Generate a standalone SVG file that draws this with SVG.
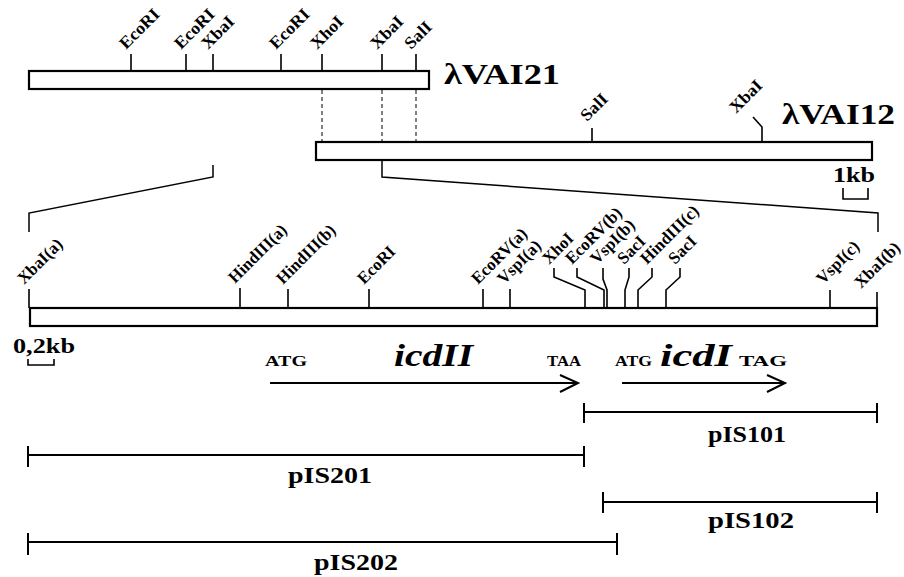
<svg xmlns="http://www.w3.org/2000/svg" width="904" height="577" viewBox="0 0 904 577">
<style>
.bar{fill:#fff;stroke:#000;stroke-width:2.2}
.tk{stroke:#000;stroke-width:1.6;fill:none}
.ln{stroke:#000;stroke-width:2;fill:none}
.ds{stroke:#000;stroke-width:1;stroke-dasharray:4 3;fill:none}
.cn{stroke:#000;stroke-width:1.5;fill:none}
text{font-family:"Liberation Serif","Times New Roman",Times,serif;font-weight:bold;fill:#000}
.lb{font-size:17px}
.big{font-size:30px}
.sc{font-size:22px}
.cod{font-size:15px}
.gene{font-size:31px;font-style:italic}
.pl{font-size:24px}
</style>
<rect width="904" height="577" fill="#fff"/>

<g id="lambdaVAI21">
<rect class="bar" x="29" y="71" width="400" height="18"/>
<path class="tk" d="M131 54V71M186 54V71M213 54V71M281 54V71M322 54V71M382 54V71M416 54V71"/>
<text class="lb" transform="translate(126,50) rotate(-45)" textLength="49" lengthAdjust="spacingAndGlyphs">EcoRI</text>
<text class="lb" transform="translate(181,50) rotate(-45)" textLength="49" lengthAdjust="spacingAndGlyphs">EcoRI</text>
<text class="lb" transform="translate(208,50) rotate(-45)" textLength="39" lengthAdjust="spacingAndGlyphs">XbaI</text>
<text class="lb" transform="translate(276,50) rotate(-45)" textLength="49" lengthAdjust="spacingAndGlyphs">EcoRI</text>
<text class="lb" transform="translate(317,50) rotate(-45)" textLength="39" lengthAdjust="spacingAndGlyphs">XhoI</text>
<text class="lb" transform="translate(377,50) rotate(-45)" textLength="39" lengthAdjust="spacingAndGlyphs">XbaI</text>
<text class="lb" transform="translate(411,50) rotate(-45)" textLength="31" lengthAdjust="spacingAndGlyphs">SalI</text>
<text class="big" x="444" y="84" textLength="116" lengthAdjust="spacingAndGlyphs">λVAI21</text>
</g>

<g id="lambdaVAI12">
<rect class="bar" x="316" y="142" width="556" height="18"/>
<path class="tk" d="M592 128V142M753 117L762 127V142"/>
<text class="lb" transform="translate(587,122) rotate(-45)" textLength="31" lengthAdjust="spacingAndGlyphs">SalI</text>
<text class="lb" transform="translate(736,114) rotate(-45)" textLength="39" lengthAdjust="spacingAndGlyphs">XbaI</text>
<text class="big" x="782" y="124" textLength="113" lengthAdjust="spacingAndGlyphs">λVAI12</text>
</g>

<g id="scale1kb">
<text class="sc" x="833" y="182" textLength="42" lengthAdjust="spacingAndGlyphs">1kb</text>
<path class="tk" d="M843 188V199H868V188"/>
</g>

<g id="detailMap">
<rect class="bar" x="30" y="308" width="847" height="18"/>
<path class="tk" d="M29 289V308M240 288V308M288 289V308M369 289V308M483 289V308M510 289V308M830 290V308M877 292V308"/>
<path class="tk" d="M554 268V277L585 290V308M577 268V277L604 290V308M603 268V279L607 290V308M629 268V277L625 290V308M652 268V277L638 290V308M680 268V277L666 290V308"/>
<text class="lb" transform="translate(24,285) rotate(-45)" textLength="56" lengthAdjust="spacingAndGlyphs">XbaI(a)</text>
<text class="lb" transform="translate(235,284) rotate(-45)" textLength="75" lengthAdjust="spacingAndGlyphs">HindIII(a)</text>
<text class="lb" transform="translate(283,285) rotate(-45)" textLength="76" lengthAdjust="spacingAndGlyphs">HindIII(b)</text>
<text class="lb" transform="translate(364,285) rotate(-45)" textLength="46" lengthAdjust="spacingAndGlyphs">EcoRI</text>
<text class="lb" transform="translate(478,285) rotate(-45)" textLength="71" lengthAdjust="spacingAndGlyphs">EcoRV(a)</text>
<text class="lb" transform="translate(504,285) rotate(-45)" textLength="54" lengthAdjust="spacingAndGlyphs">VspI(a)</text>
<text class="lb" transform="translate(549,265) rotate(-45)" textLength="36" lengthAdjust="spacingAndGlyphs">XhoI</text>
<text class="lb" transform="translate(572,265) rotate(-45)" textLength="72" lengthAdjust="spacingAndGlyphs">EcoRV(b)</text>
<text class="lb" transform="translate(597,265) rotate(-45)" textLength="55" lengthAdjust="spacingAndGlyphs">VspI(b)</text>
<text class="lb" transform="translate(624,265) rotate(-45)" textLength="32" lengthAdjust="spacingAndGlyphs">SacI</text>
<text class="lb" transform="translate(647,265) rotate(-45)" textLength="75" lengthAdjust="spacingAndGlyphs">HindIII(c)</text>
<text class="lb" transform="translate(675,265) rotate(-45)" textLength="32" lengthAdjust="spacingAndGlyphs">SacI</text>
<text class="lb" transform="translate(823,285) rotate(-45)" textLength="53" lengthAdjust="spacingAndGlyphs">VspI(c)</text>
<text class="lb" transform="translate(861,289) rotate(-45)" textLength="57" lengthAdjust="spacingAndGlyphs">XbaI(b)</text>
</g>

<g id="scale02kb">
<text class="sc" x="13" y="353" textLength="62" lengthAdjust="spacingAndGlyphs">0,2kb</text>
<path class="tk" d="M28 359V365H54V359"/>
</g>

<g id="icdII">
<text class="cod" x="265" y="366" textLength="42" lengthAdjust="spacingAndGlyphs">ATG</text>
<text class="gene" x="394" y="366" textLength="79" lengthAdjust="spacingAndGlyphs">icdII</text>
<text class="cod" x="547" y="366" textLength="34" lengthAdjust="spacingAndGlyphs">TAA</text>
<path class="ln" d="M270 383H577M560 375L578 383L560 392"/>
</g>

<g id="icdI">
<text class="cod" x="615" y="366" textLength="37" lengthAdjust="spacingAndGlyphs">ATG</text>
<text class="gene" x="660" y="366" textLength="72" lengthAdjust="spacingAndGlyphs">icdI</text>
<text class="cod" x="739" y="366" textLength="48" lengthAdjust="spacingAndGlyphs">TAG</text>
<path class="ln" d="M622 383H784M767 375L785 383L767 392"/>
</g>

<g id="pIS101">
<path class="ln" d="M584 412H877M584 403V423M877 403V423"/>
<text class="pl" x="708" y="442" textLength="78" lengthAdjust="spacingAndGlyphs">pIS101</text>
</g>
<g id="pIS201">
<path class="ln" d="M28 455H584M28 446V467M584 446V467"/>
<text class="pl" x="288" y="483" textLength="84" lengthAdjust="spacingAndGlyphs">pIS201</text>
</g>
<g id="pIS102">
<path class="ln" d="M603 502H877M603 492V513M877 492V513"/>
<text class="pl" x="708" y="528" textLength="86" lengthAdjust="spacingAndGlyphs">pIS102</text>
</g>
<g id="pIS202">
<path class="ln" d="M28 542H617M28 533V555M617 533V555"/>
<text class="pl" x="314" y="570" textLength="84" lengthAdjust="spacingAndGlyphs">pIS202</text>
</g>

<g id="connectors">
<path class="ds" d="M322 90V141M382 90V141M416 90V141"/>
<path class="cn" d="M213 165V177L29 213V232"/>
<path class="cn" d="M382 161V177L878 213V232"/>
</g>
</svg>
